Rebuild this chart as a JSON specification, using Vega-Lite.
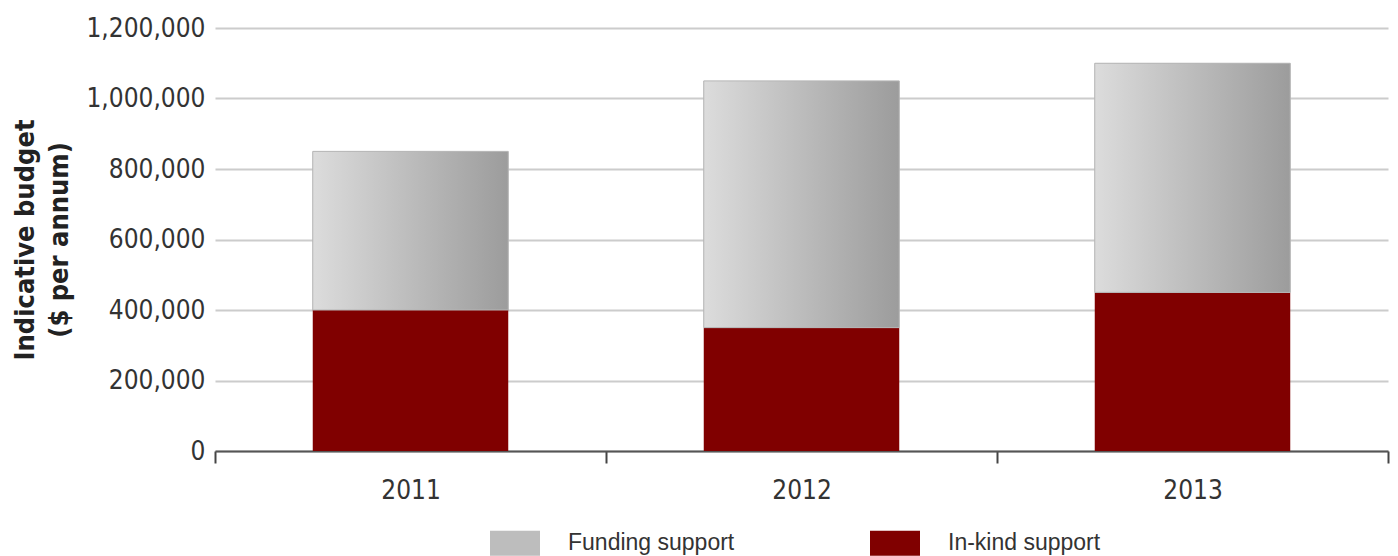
{
  "$schema": "https://vega.github.io/schema/vega-lite/v6.json",
  "autosize": {"type": "none"},
  "padding": {"left": 215, "top": 28, "right": 10, "bottom": 105},
  "width": 1173,
  "height": 423,
  "background": "white",
  "config": {"view": {"stroke": null}},
  "data": {
    "values": [
      {"year": "2011", "type": "In-kind support", "value": 400000},
      {"year": "2011", "type": "Funding support", "value": 450000},
      {"year": "2012", "type": "In-kind support", "value": 350000},
      {"year": "2012", "type": "Funding support", "value": 700000},
      {"year": "2013", "type": "In-kind support", "value": 450000},
      {"year": "2013", "type": "Funding support", "value": 650000}
    ]
  },
  "transform": [
    {"stack": "value", "groupby": ["year"], "sort": [{"field": "type", "order": "descending"}], "as": ["v0", "v1"]}
  ],
  "encoding": {
    "x": {
      "field": "year", "type": "nominal",
      "scale": {"paddingInner": 0, "paddingOuter": 0},
      "axis": {
        "title": null, "labelAngle": 0, "tickBand": "extent",
        "labelFont": "DejaVu Sans Condensed, DejaVu Sans, sans-serif", "labelFontSize": 26, "labelColor": "#333333",
        "labelPadding": 14, "tickSize": 12, "tickWidth": 2, "tickColor": "#444444",
        "domainColor": "#555555", "domainWidth": 2, "grid": false
      }
    },
    "y": {
      "field": "v1", "type": "quantitative",
      "scale": {"domain": [0, 1200000], "nice": false},
      "axis": {
        "title": ["Indicative budget", "($ per annum)"],
        "titleFont": "DejaVu Sans Condensed, DejaVu Sans, sans-serif", "titleFontSize": 27, "titleFontWeight": "bold",
        "titleColor": "#222222", "titleLineHeight": 34, "titlePadding": 12,
        "values": [0, 200000, 400000, 600000, 800000, 1000000, 1200000],
        "format": ",.0f",
        "labelFont": "DejaVu Sans Condensed, DejaVu Sans, sans-serif", "labelFontSize": 26, "labelColor": "#333333",
        "labelPadding": 10, "ticks": false, "domain": false,
        "grid": true, "gridColor": "#cccccc", "gridWidth": 2
      }
    },
    "y2": {"field": "v0"}
  },
  "layer": [
    {
      "mark": {"type": "bar", "width": {"band": 0.5}},
      "encoding": {
        "color": {
          "field": "type", "type": "nominal",
          "scale": {"domain": ["Funding support", "In-kind support"], "range": ["#bdbdbd", "#800000"]},
          "legend": {
            "title": null, "orient": "none", "legendX": 275, "legendY": 490, "direction": "horizontal",
            "symbolType": "M-1,-0.5H1V0.5H-1Z", "symbolSize": 2500, "symbolStrokeWidth": 0,
            "labelFont": "Liberation Sans, Arial, sans-serif", "labelFontSize": 23, "labelColor": "#333333",
            "labelOffset": 28, "labelLimit": 400, "columnPadding": 135, "padding": 0
          }
        }
      }
    },
    {
      "transform": [{"filter": "datum.type === 'Funding support'"}],
      "mark": {
        "type": "bar", "width": {"band": 0.5},
        "fill": {"gradient": "linear", "x1": 0, "y1": 0, "x2": 1, "y2": 0, "stops": [{"offset": 0, "color": "#dcdcdc"}, {"offset": 1, "color": "#9c9c9c"}]},
        "stroke": "#b5b5b5", "strokeWidth": 1
      }
    }
  ]
}
